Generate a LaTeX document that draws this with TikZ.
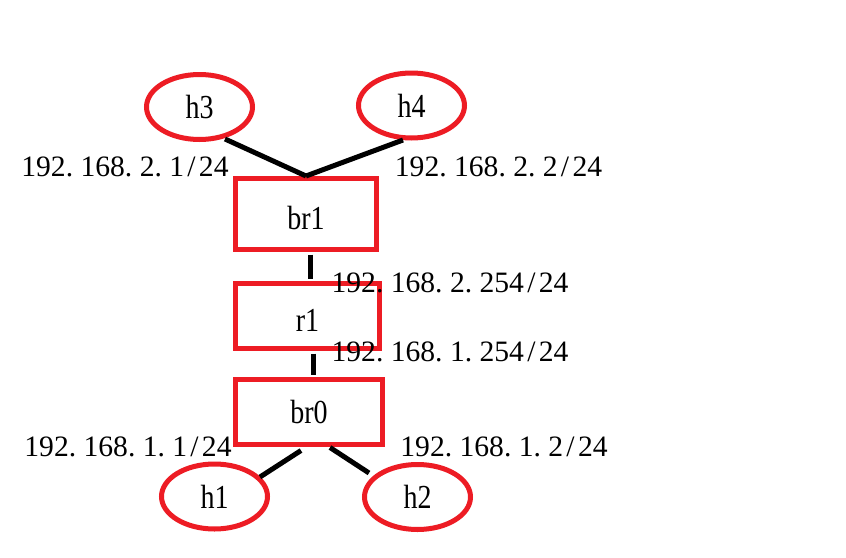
\documentclass[tikz,border=0pt]{standalone}
\usepackage{graphicx}
\usepackage{fontspec}
\setmainfont{Liberation Serif}
\usetikzlibrary{shapes.geometric}
\definecolor{pred}{RGB}{237,28,36}
\newcommand\pdot{\makebox[0.5em][l]{.}}
\newcommand\pslash{\makebox[0.5em]{/}}
\newcommand\tall[1]{\scalebox{1}[1.2]{#1}}
\begin{document}
\begin{tikzpicture}[x=1pt,y=-1pt,
  host/.style={ellipse,draw=pred,line width=5pt,inner sep=0pt,
    minimum width=106pt,minimum height=65pt,font=\fontsize{28}{28}\selectfont},
  dev/.style={rectangle,draw=pred,line width=5pt,inner sep=0pt,
    font=\fontsize{28}{28}\selectfont},
  link/.style={line width=5pt,draw=black},
  ip/.style={inner sep=0pt,font=\fontsize{29.6}{30}\selectfont}]
\useasboundingbox (0,0) rectangle (846,557);
\fill[white] (0,0) rectangle (846,557);
% hosts
\node[host] (h3) at (199.5,107) {\tall{h3}};
\node[host] (h4) at (411.5,105.5) {\tall{h4}};
\node[host] (h1) at (214.5,496.5) {\tall{h1}};
\node[host] (h2) at (417.5,497) {\tall{h2}};
% devices
\node[dev,minimum width=141pt,minimum height=71pt,text height=31pt] (br1) at (306,214) {\tall{br1}};
\node[dev,minimum width=144pt,minimum height=65pt,text height=31pt] (r1) at (307.5,316) {\tall{r1}};
\node[dev,minimum width=147pt,minimum height=65pt] (br0) at (309,412) {\tall{br0}};
% links
\draw[link] ([shift={(25.5,32)}]h3.center) -- (br1.north);
\draw[link] ([shift={(-8.5,34.5)}]h4.center) -- (br1.north);
\draw[link,shorten <=2.5pt,shorten >=2.5pt] ([xshift=4pt]br1.south) -- ([xshift=4pt]br1.south |- r1.north);
\draw[link,shorten <=2.5pt,shorten >=2.5pt] ([xshift=5.5pt]r1.south) -- ([xshift=5.5pt]r1.south |- br0.north);
\draw[link] ([shift={(-8,3.5)}]br0.south) -- ([shift={(45.5,-19.5)}]h1.center);
\draw[link] ([shift={(21,0.5)}]br0.south) -- ([shift={(-48.5,-24)}]h2.center);
% addresses
\node[ip] (ip1) at (125,167) {192\pdot168\pdot2\pdot1\pslash24};
\node[ip] (ip2) at (498.5,167) {192\pdot168\pdot2\pdot2\pslash24};
\node[ip] (ip3) at (450,282.5) {192\pdot168\pdot2\pdot254\pslash24};
\node[ip] (ip4) at (450,352) {192\pdot168\pdot1\pdot254\pslash24};
\node[ip] (ip5) at (128,447) {192\pdot168\pdot1\pdot1\pslash24};
\node[ip] (ip6) at (504,447) {192\pdot168\pdot1\pdot2\pslash24};
\end{tikzpicture}
\end{document}
